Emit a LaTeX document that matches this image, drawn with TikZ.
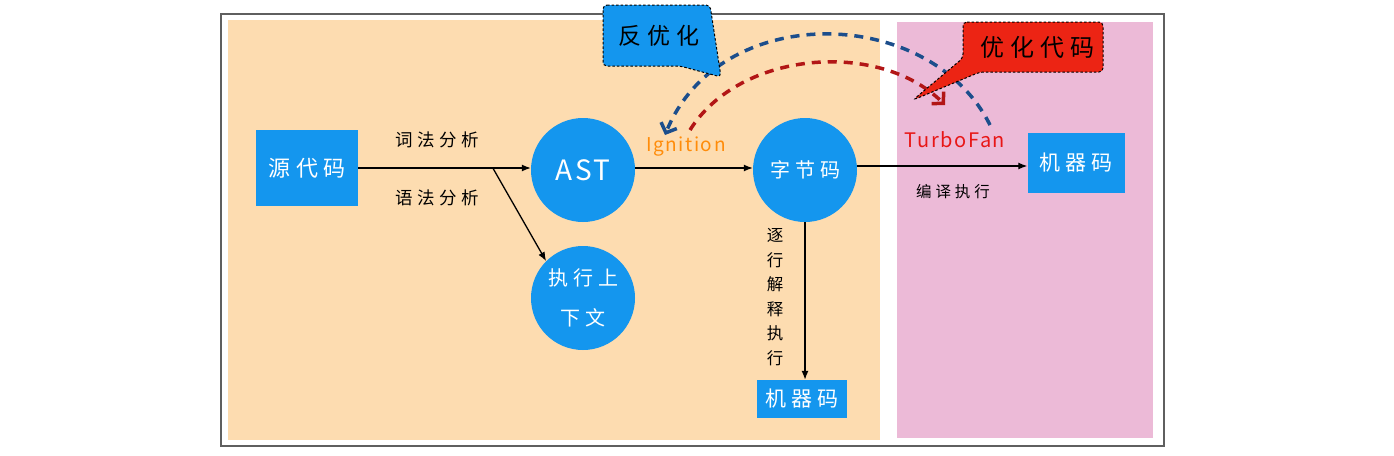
\documentclass[tikz,border=0pt]{standalone}
\usepackage{fontspec}
\setmainfont[LetterSpace=8]{Noto Sans CJK SC}
\newfontfamily\cjkwide[LetterSpace=25]{Noto Sans CJK SC}
\usetikzlibrary{arrows.meta}
\definecolor{nodeblue}{RGB}{20,150,238}
\definecolor{orangebg}{RGB}{253,220,176}
\definecolor{pinkbg}{RGB}{236,186,215}
\definecolor{darkblue}{RGB}{28,78,140}
\definecolor{darkred}{RGB}{178,22,22}
\definecolor{calloutred}{RGB}{236,36,20}
\definecolor{ignorange}{RGB}{255,140,10}
\definecolor{turbored}{RGB}{232,22,22}

\tikzset{
  box/.style={fill=nodeblue, text=white, inner sep=0pt, font=\cjkwide\fontsize{21}{24}\selectfont},
  circ/.style={circle, fill=nodeblue, text=white, minimum size=104pt, inner sep=0pt},
  flow/.style={line width=1.3pt, -{Latex[length=9pt,width=7pt]}},
  lbl/.style={font=\cjkwide\fontsize{17.5}{20}\selectfont},
  hand/.style={line width=3.5pt, dash pattern={on 9pt off 7pt}, -{Straight Barb[length=8pt,width=17pt]}},
  callout/.style={draw=black, line width=1pt, dash pattern={on 2.5pt off 2pt}, rounded corners=4pt}
}

\begin{document}
\begin{tikzpicture}[x=1pt,y=1pt,yscale=-1,xscale=1]
\useasboundingbox (0,0) rectangle (1394,455);

%Shape: Rectangle (frame)
\draw [color={rgb, 255:red, 95; green, 95; blue, 95}, line width=1.5pt] (221,14) rectangle (1164,446);
%Shape: Rectangle (interpreter side)
\fill [orangebg] (228,20) rectangle (880,440);
%Shape: Rectangle (compiler side)
\fill [pinkbg] (897,22) rectangle (1153,438);

% Nodes
\node [box, minimum width=102pt, minimum height=76pt, font=\cjkwide\fontsize{22}{26}\selectfont] (src) at (307,168) {源代码};
\node [circ, font=\fontsize{28}{32}\selectfont] (ast) at (583,170) {AST};
\node [circ, align=center, font=\cjkwide\fontsize{20}{40}\selectfont] (ctx) at (583,298) {执行上\\下文};
\node [circ, font=\cjkwide\fontsize{20}{24}\selectfont] (bc) at (805,170) {字节码};
\node [box, minimum width=97pt, minimum height=60pt] (mcr) at (1076,163) {机器码};
\node [box, minimum width=90pt, minimum height=38pt] (mcd) at (802,399) {机器码};

%Straight Lines
\draw [flow] (src.east |- 0,168) -- (ast.west |- 0,168) coordinate [pos=0.78] (fork);
\draw [flow] (fork) -- (ctx.north west);
\draw [flow] (ast.east |- 0,168) -- (bc.west |- 0,168);
\draw [flow] (bc.east |- 0,166) -- (mcr.west |- 0,166);
\draw [flow] (bc.south) -- (bc.south |- mcd.north);

% Text Node
\node [lbl] (lex) at (437,140) {词法分析};
\node [lbl] (syn) at (437,198) {语法分析};
\node [lbl, font=\cjkwide\fontsize{15.5}{18}\selectfont] (cmp) at (953,192) {编译执行};
\node [lbl, align=center, font=\fontsize{16.5}{24.5}\selectfont] (interp) at (775,297) {逐\\行\\解\\释\\执\\行};
\node [text=ignorange, font=\fontsize{19}{22}\selectfont] (ign) at (686,147) {Ignition};
\node [text=turbored, font=\fontsize{20}{23}\selectfont] (turbo) at (955,140) {TurboFan};

% dashed curves
\coordinate (deopts) at (990,125);
\coordinate (deopte) at (665,135);
\coordinate (opts) at (690,130);
\coordinate (opte) at (945,105);
\draw [hand, color=darkblue] (deopts) .. controls (930,5) and (720,0) .. (deopte);
\draw [hand, color=darkred] (opts) .. controls (740,50) and (880,40) .. (opte);

%Shape: callouts
\draw [callout, fill=nodeblue] (603,5) -- (710,5) -- (721,77) -- (680,66) -- (603,66) -- cycle;
\node [font=\cjkwide\fontsize{23}{26}\selectfont] (deopt) at (659,36) {反优化};
\draw [callout, fill=calloutred] (963,22) -- (1103,22) -- (1103,72) -- (980,72) -- (913,100) -- (963,58) -- cycle;
\node [font=\cjkwide\fontsize{24}{28}\selectfont] (opt) at (1037,47) {优化代码};

\end{tikzpicture}
\end{document}
